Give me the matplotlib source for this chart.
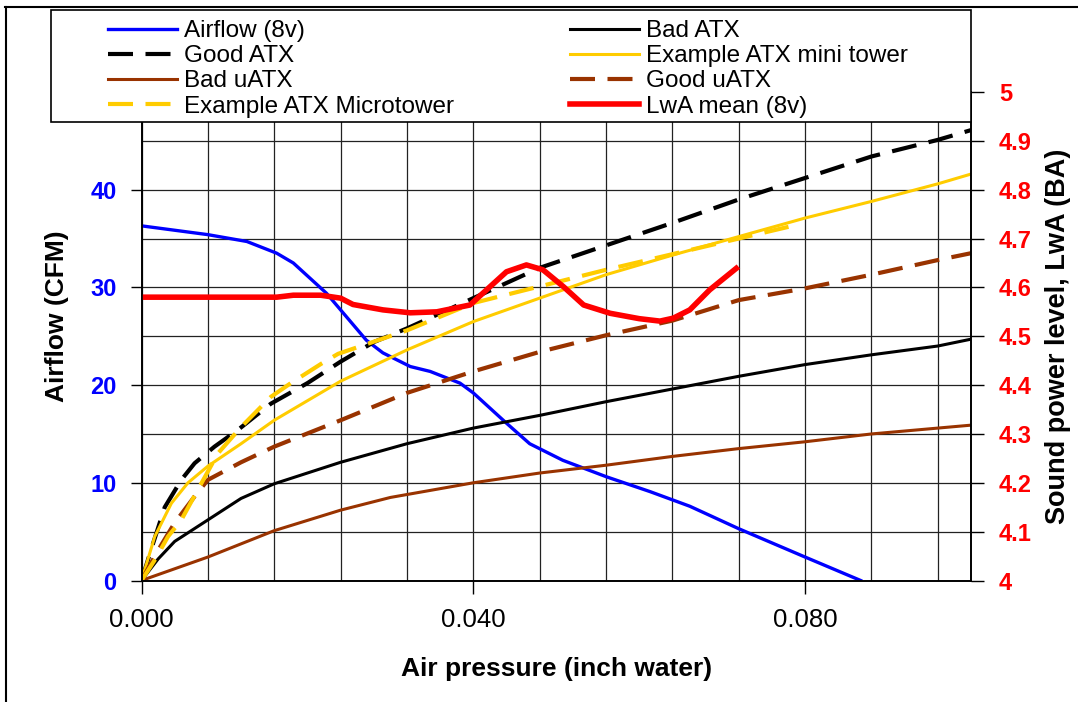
import numpy as np
import matplotlib.pyplot as plt
from matplotlib.lines import Line2D
from matplotlib.patches import Rectangle

plt.rcParams['font.family'] = ['Liberation Sans', 'DejaVu Sans']

# ---- dados ----
# Airflow (8v), eixo esquerdo (CFM)
p_air = [0, 0.008, 0.0127, 0.0163, 0.0183, 0.0223, 0.0271, 0.0291, 0.0324, 0.0348,
         0.0384, 0.040, 0.044, 0.0468, 0.0508, 0.0561, 0.0613, 0.0661, 0.072, 0.080, 0.0867]
q_air = [36.3, 35.4, 34.7, 33.5, 32.5, 29.4, 24.6, 23.3, 21.9, 21.4,
         20.2, 19.2, 16.1, 14.0, 12.3, 10.6, 9.1, 7.6, 5.3, 2.4, 0]

# Bad ATX
p_bad_atx = [0, 0.002, 0.004, 0.008, 0.012, 0.016, 0.024, 0.032, 0.040, 0.048,
             0.056, 0.064, 0.072, 0.080, 0.088, 0.096, 0.100]
q_bad_atx = [0, 2.2, 4.0, 6.2, 8.4, 9.9, 12.1, 14.0, 15.6, 16.9,
             18.3, 19.6, 20.9, 22.1, 23.1, 24.0, 24.7]

# Good ATX
p_good_atx = [0, 0.0014, 0.0028, 0.0048, 0.0064, 0.0088, 0.0116, 0.0156, 0.020, 0.024,
              0.028, 0.032, 0.040, 0.048, 0.056, 0.064, 0.072, 0.080, 0.088, 0.096, 0.100]
q_good_atx = [0, 3.8, 7.5, 10.3, 12.0, 13.7, 15.4, 18.1, 20.2, 22.4,
              24.4, 25.8, 28.9, 32.0, 34.3, 36.6, 39.0, 41.2, 43.4, 45.1, 46.1]

# Example ATX mini tower
p_mini = [0, 0.0016, 0.0036, 0.0056, 0.008, 0.012, 0.016, 0.024, 0.032, 0.040,
          0.048, 0.056, 0.064, 0.072, 0.080, 0.088, 0.096, 0.100]
q_mini = [0, 4.5, 7.9, 10.0, 11.7, 14.0, 16.4, 20.4, 23.6, 26.5,
          28.9, 31.3, 33.3, 35.2, 37.1, 38.8, 40.6, 41.6]

# Bad uATX
p_bad_u = [0, 0.008, 0.016, 0.024, 0.030, 0.040, 0.048, 0.056, 0.064,
           0.072, 0.080, 0.088, 0.096, 0.100]
q_bad_u = [0, 2.4, 5.1, 7.2, 8.5, 10.0, 11.0, 11.8, 12.7,
           13.5, 14.2, 15.0, 15.6, 15.9]

# Good uATX
p_good_u = [0, 0.002, 0.004, 0.0064, 0.008, 0.012, 0.016, 0.024, 0.032, 0.040,
            0.048, 0.056, 0.064, 0.072, 0.080, 0.088, 0.096, 0.100]
q_good_u = [0, 3.1, 5.9, 8.6, 10.3, 12.1, 13.7, 16.4, 19.2, 21.4,
            23.4, 25.1, 26.6, 28.7, 29.9, 31.3, 32.8, 33.5]

# Example ATX Microtower
p_micro = [0, 0.0016, 0.0032, 0.0048, 0.0068, 0.0092, 0.012, 0.0156, 0.018, 0.0217,
           0.0237, 0.032, 0.040, 0.048, 0.056, 0.064, 0.072, 0.078]
q_micro = [0, 2.1, 4.5, 6.2, 9.3, 13.0, 15.7, 18.8, 20.2, 22.2,
           23.2, 25.6, 28.4, 30.1, 31.8, 33.4, 35.0, 36.2]

# LwA mean (8v), eixo direito (BA)
p_lwa = [0, 0.008, 0.0163, 0.0183, 0.0216, 0.024, 0.0255, 0.0291, 0.0324, 0.0356,
         0.0396, 0.0416, 0.044, 0.0464, 0.0484, 0.0509, 0.0533, 0.0565, 0.0600,
         0.0625, 0.0641, 0.0661, 0.0685, 0.0717]
lwa = [4.58, 4.58, 4.58, 4.584, 4.584, 4.578, 4.565, 4.554, 4.548, 4.550,
       4.564, 4.595, 4.632, 4.646, 4.636, 4.601, 4.564, 4.547, 4.536,
       4.531, 4.537, 4.554, 4.595, 4.639]

x_ticks = [0.0, 0.04, 0.08]
x_tick_labels = ['0.000', '0.040', '0.080']
left_ticks = [0, 10, 20, 30, 40, 50]
right_ticks = [4, 4.1, 4.2, 4.3, 4.4, 4.5, 4.6, 4.7, 4.8, 4.9, 5]
right_tick_labels = ['4', '4.1', '4.2', '4.3', '4.4', '4.5', '4.6', '4.7', '4.8', '4.9', '5']

# cores
azul = '#0000FF'
amarelo = '#FFCC00'
marrom = '#993300'
vermelho = '#FF0000'

fig = plt.figure(figsize=(10.78, 7.02), dpi=100)
ax = fig.add_axes([141.5/1078, 1 - 580.5/702, (971 - 141.5)/1078, (580.5 - 92)/702])
ax2 = ax.twinx()

l_air, = ax.plot(p_air, q_air, color=azul, lw=2.4, label='Airflow (8v)')
l_bad_atx, = ax.plot(p_bad_atx, q_bad_atx, color='black', lw=2.2, label='Bad ATX')
l_good_atx, = ax.plot(p_good_atx, q_good_atx, color='black', lw=3.0, dashes=(6, 3), label='Good ATX')
l_mini, = ax.plot(p_mini, q_mini, color=amarelo, lw=2.2, label='Example ATX mini tower')
l_bad_u, = ax.plot(p_bad_u, q_bad_u, color=marrom, lw=2.2, label='Bad uATX')
l_good_u, = ax.plot(p_good_u, q_good_u, color=marrom, lw=3.0, dashes=(6, 3), label='Good uATX')
l_micro, = ax.plot(p_micro, q_micro, color=amarelo, lw=3.0, dashes=(6, 3), label='Example ATX Microtower')
l_lwa, = ax2.plot(p_lwa, lwa, color=vermelho, lw=4.0, label='LwA mean (8v)')

# eixo x
ax.set_xlim(0, 0.1)
ax.set_xticks(x_ticks)
ax.set_xticklabels(x_tick_labels, fontsize=18.5)
ax.set_xticks(np.arange(0, 0.1, 0.008), minor=True)
ax.set_xlabel('Air pressure (inch water)', fontsize=19, fontweight='bold', labelpad=18)

# eixo esquerdo
ax.set_ylim(0, 50)
ax.set_yticks(left_ticks)
ax.set_yticks(np.arange(0, 50.1, 5), minor=True)
ax.tick_params(axis='y', which='major', labelsize=17, labelcolor=azul, direction='out',
               length=8, width=1, pad=10)
for t in ax.get_yticklabels():
    t.set_fontweight('bold')
ax.tick_params(axis='x', which='major', direction='out', length=9, width=1, pad=11)
ax.tick_params(which='minor', length=0)
ax.set_ylabel('Airflow (CFM)', fontsize=19, fontweight='bold', va='center')
ax.yaxis.set_label_coords((57 - 141.5)/829.5, (580.5 - 316)/488.5)

# eixo direito
ax2.set_ylim(4, 5)
ax2.set_yticks(right_ticks)
ax2.set_yticklabels(right_tick_labels)
ax2.tick_params(axis='y', labelsize=17, labelcolor=vermelho, direction='out',
                length=9, width=1, pad=11)
for t in ax2.get_yticklabels():
    t.set_fontweight('bold')
ax2.set_ylabel('Sound power level, LwA (BA)', fontsize=19.5, fontweight='bold',
               va='center', rotation=90)
ax2.yaxis.set_label_coords((1058 - 141.5)/829.5, 0.5)

# grade
ax.grid(True, which='both', color='#222222', lw=0.9)
ax.set_axisbelow(True)
for s in ax.spines.values():
    s.set_color('black')
    s.set_linewidth(1.2)
for s in ax2.spines.values():
    s.set_color('black')
    s.set_linewidth(1.2)

# legenda (caixa desenhada por cima da area do grafico)
caixa = Rectangle((51/1078, 1 - 122/702), 920/1078, 112/702, transform=fig.transFigure,
                  facecolor='white', edgecolor='black', lw=1.2, zorder=4)
fig.add_artist(caixa)
col1 = [l_air, l_good_atx, l_bad_u, l_micro]
col2 = [l_bad_atx, l_mini, l_good_u, l_lwa]
for handles, x0 in [(col1, 108/1078), (col2, 570/1078)]:
    fig.legend(handles=handles, labels=[h.get_label() for h in handles],
               loc='upper left', bbox_to_anchor=(x0, 1 - 20/702), frameon=False,
               fontsize=17.5, borderpad=0, borderaxespad=0, labelspacing=0.13,
               handlelength=2.84, handletextpad=0.27)

# bordas da figura
fig.add_artist(Line2D([5/1078, 1], [1 - 6.5/702, 1 - 6.5/702], transform=fig.transFigure,
                      color='black', lw=1.5))
fig.add_artist(Line2D([6/1078, 6/1078], [0, 1 - 6.5/702], transform=fig.transFigure,
                      color='black', lw=1.5))

fig.savefig('out.png', dpi=100)
